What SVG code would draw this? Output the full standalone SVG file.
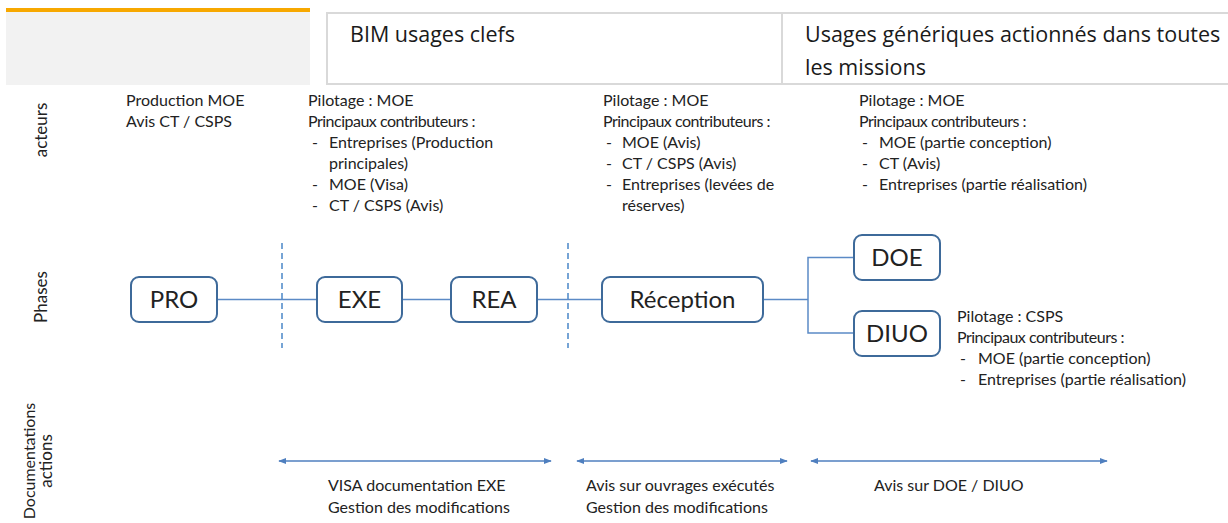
<svg xmlns="http://www.w3.org/2000/svg" width="1228" height="523" viewBox="0 0 1228 523">
  <defs>
    <style>
      .hdr { font-family: "Open Sans", "Noto Sans", sans-serif; font-size: 21.5px; fill: #1a1a1a; }
      .txt { font-family: Lato, "Open Sans", sans-serif; font-size: 16px; fill: #222; }
      .pc { letter-spacing: -0.5px; }
      .row { font-family: Lato, "Open Sans", sans-serif; font-size: 17px; fill: #222; }
      .lbl { font-family: Lato, "Open Sans", sans-serif; font-size: 24px; fill: #222; text-anchor: middle; }
      .box { fill: #fff; stroke: #3e6a9a; stroke-width: 2; }
      .link { fill: none; stroke: #5b8ac6; stroke-width: 1.5; }
      .sep { fill: none; stroke: #4a86c8; stroke-width: 1.5; stroke-dasharray: 6 4; }
      .span { fill: none; stroke: #4f7fbf; stroke-width: 1.5; marker-start: url(#head); marker-end: url(#head); }
    </style>
    <marker id="head" viewBox="0 0 10 10" refX="9" refY="5" markerWidth="8" markerHeight="8" markerUnits="userSpaceOnUse" orient="auto-start-reverse">
      <path d="M0,1 L10,5 L0,9 Z" fill="#4f7fbf"/>
    </marker>
  </defs>

  <!-- header band -->
  <g id="header">
    <rect x="6" y="8" width="304" height="4" fill="#f7a800"/>
    <rect x="6" y="12" width="304" height="73" fill="#f2f2f2"/>
    <rect x="327" y="13" width="910" height="71" fill="#fff" stroke="#d9d9d9" stroke-width="2"/>
    <line x1="782" y1="13" x2="782" y2="84" stroke="#d9d9d9" stroke-width="2"/>
    <text class="hdr" x="350" y="42">BIM usages clefs</text>
    <text class="hdr" x="805" y="42">Usages génériques actionnés dans toutes</text>
    <text class="hdr" x="805" y="75">les missions</text>
  </g>

  <!-- row titles -->
  <g id="row-titles">
    <text class="row" transform="translate(47,130) rotate(-90)" text-anchor="middle">acteurs</text>
    <text class="row" transform="translate(47,297) rotate(-90)" text-anchor="middle">Phases</text>
    <text class="row" transform="translate(35,461) rotate(-90)" text-anchor="middle" style="font-size:16px">Documentations</text>
    <text class="row" transform="translate(52,461) rotate(-90)" text-anchor="middle">actions</text>
  </g>

  <!-- actors -->
  <g id="actors-pro">
    <text class="txt" x="126" y="106">Production MOE</text>
    <text class="txt" x="126" y="127">Avis CT / CSPS</text>
  </g>
  <g id="actors-exe">
    <text class="txt" x="308" y="106">Pilotage : MOE</text>
    <text class="txt pc" x="308" y="127">Principaux contributeurs :</text>
    <text class="txt" x="312" y="148">-</text><text class="txt" x="329" y="148">Entreprises (Production</text>
    <text class="txt" x="329" y="169">principales)</text>
    <text class="txt" x="312" y="190">-</text><text class="txt" x="329" y="190">MOE (Visa)</text>
    <text class="txt" x="312" y="211">-</text><text class="txt" x="329" y="211">CT / CSPS (Avis)</text>
  </g>
  <g id="actors-reception">
    <text class="txt" x="603" y="106">Pilotage : MOE</text>
    <text class="txt pc" x="603" y="127">Principaux contributeurs :</text>
    <text class="txt" x="606" y="148">-</text><text class="txt" x="622" y="148">MOE (Avis)</text>
    <text class="txt" x="606" y="169">-</text><text class="txt" x="622" y="169">CT / CSPS (Avis)</text>
    <text class="txt" x="606" y="190">-</text><text class="txt" x="622" y="190">Entreprises (levées de</text>
    <text class="txt" x="622" y="211">réserves)</text>
  </g>
  <g id="actors-doe">
    <text class="txt" x="859" y="106">Pilotage : MOE</text>
    <text class="txt pc" x="859" y="127">Principaux contributeurs :</text>
    <text class="txt" x="862" y="148">-</text><text class="txt" x="879" y="148">MOE (partie conception)</text>
    <text class="txt" x="862" y="169">-</text><text class="txt" x="879" y="169">CT (Avis)</text>
    <text class="txt" x="862" y="190">-</text><text class="txt" x="879" y="190">Entreprises (partie réalisation)</text>
  </g>
  <g id="actors-diuo">
    <text class="txt" x="957" y="322">Pilotage : CSPS</text>
    <text class="txt pc" x="957" y="343">Principaux contributeurs :</text>
    <text class="txt" x="960" y="364">-</text><text class="txt" x="978" y="364">MOE (partie conception)</text>
    <text class="txt" x="960" y="385">-</text><text class="txt" x="978" y="385">Entreprises (partie réalisation)</text>
  </g>

  <!-- connectors and phase separators -->
  <g id="connectors">
    <line class="sep" x1="282" y1="243" x2="282" y2="348"/>
    <line class="sep" x1="568" y1="243" x2="568" y2="348"/>
    <line class="link" x1="217" y1="299.5" x2="317" y2="299.5"/>
    <line class="link" x1="402" y1="299.5" x2="451" y2="299.5"/>
    <line class="link" x1="537" y1="299.5" x2="602" y2="299.5"/>
    <polyline class="link" points="763,299.5 808,299.5"/>
    <polyline class="link" points="854,257.5 808,257.5 808,333 854,333"/>
    <line class="span" x1="279" y1="461" x2="551" y2="461"/>
    <line class="span" x1="577" y1="461" x2="787" y2="461"/>
    <line class="span" x1="811" y1="461" x2="1107" y2="461"/>
  </g>

  <!-- phases -->
  <g id="node-pro">
    <rect class="box" x="131" y="277" width="86" height="45" rx="8"/>
    <text class="lbl" x="174" y="308">PRO</text>
  </g>
  <g id="node-exe">
    <rect class="box" x="317" y="277" width="85" height="45" rx="8"/>
    <text class="lbl" x="359.5" y="308">EXE</text>
  </g>
  <g id="node-rea">
    <rect class="box" x="451" y="277" width="86" height="45" rx="8"/>
    <text class="lbl" x="494" y="308">REA</text>
  </g>
  <g id="node-reception">
    <rect class="box" x="602" y="277" width="161" height="45" rx="8"/>
    <text class="lbl" x="682.5" y="308">Réception</text>
  </g>
  <g id="node-doe">
    <rect class="box" x="854" y="235" width="86" height="45" rx="8"/>
    <text class="lbl" x="897" y="266">DOE</text>
  </g>
  <g id="node-diuo">
    <rect class="box" x="854" y="311" width="86" height="45" rx="8"/>
    <text class="lbl" x="897" y="342">DIUO</text>
  </g>

  <!-- documentation / actions -->
  <g id="docs-exe">
    <text class="txt" x="328" y="491">VISA documentation EXE</text>
    <text class="txt" x="328" y="513">Gestion des modifications</text>
  </g>
  <g id="docs-reception">
    <text class="txt" x="586" y="491">Avis sur ouvrages exécutés</text>
    <text class="txt" x="586" y="513">Gestion des modifications</text>
  </g>
  <g id="docs-doe">
    <text class="txt" x="874" y="491">Avis sur DOE / DIUO</text>
  </g>
</svg>
